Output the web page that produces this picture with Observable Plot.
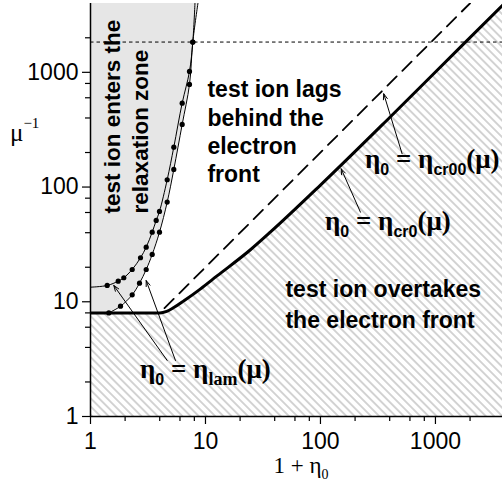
<!DOCTYPE html>
<html><head><meta charset="utf-8">
<script src="https://cdn.jsdelivr.net/npm/d3@7"></script>
<script src="https://cdn.jsdelivr.net/npm/@observablehq/plot@0.6"></script>
<style>html,body{margin:0;padding:0;background:#fff;}</style>
</head><body><div id="chart"></div>
<script>
// ---- data ----
const xMajorTicks = [1, 10, 100, 1000];
const xMinorTicks = [2, 4, 6, 8, 20, 40, 60, 80, 200, 400, 600, 800, 2000];
const yMajorTicks = [1, 10, 100, 1000];
const yMinorTicks = [2, 4, 6, 8, 20, 40, 60, 80, 200, 400, 600, 800, 2000];
const massRatio = 1836;

// eta_lam curves (first/last points are line ends, the rest are dots)
const lamUpperX = [1, 1.397, 1.741, 1.948, 2.305, 2.722, 3.051, 3.44, 3.727, 3.981, 4.645, 5.302, 6.27, 7.26, 7.755, 8.1];
const lamUpperY = [13.4, 13.87, 15.12, 16.19, 19.12, 24.19, 29.9, 40.4, 51.2, 61.3, 115.8, 222.8, 538.9, 1018, 1836, 4000];
const lamLowerX = [1.443, 1.824, 2.305, 2.668, 3.051, 3.44, 3.981, 4.645, 5.302, 6.27, 7.26, 7.755, 8.6];
const lamLowerY = [8, 9.15, 11.5, 14.53, 19.12, 25.85, 40.4, 73.9, 142.3, 351.4, 784, 1836, 4000];

// eta_cr0 (thick solid) and eta_cr00 (dashed)
const cr0X = [1, 4, 4.6, 5.3, 6.5, 9, 12.6, 24.6, 36.8, 100, 400, 1760, 4000];
const cr0Y = [8, 8, 8.25, 8.9, 10.2, 12.9, 16.8, 28.4, 40.6, 104, 404, 1770, 4000];
const cr00X = [4.4, 2000];
const cr00Y = [8.8, 4000];

// annotations
const notes = [
  {text: "test ion lags\nbehind the\nelectron\nfront", x: 10.4, y: 903, lh: 1.23, rot: 0, size: 23},
  {text: "test ion overtakes\nthe electron front", x: 49.6, y: 16.96, lh: 1.33, rot: 0, size: 23},
  {text: "test ion enters the\nrelaxation zone", x: 1.19, y: 58.9, lh: 1.28, rot: -90, size: 22.5}
];
const arrows = [
  {x1: 513, y1: 195, x2: 355, y2: 650},
  {x1: 222.7, y1: 60.4, x2: 151.4, y2: 144.4},
  {x1: 4.645, y1: 3.08, x2: 1.594, y2: 13.87},
  {x1: 5.48, y1: 3.08, x2: 3.05, y2: 15.3}
];
const mathLabels = [
  {x: 246, y: 145, sub: "cr00", subSerif: false},
  {x: 110.5, y: 41.8, sub: "cr0", subSerif: false},
  {x: 2.72, y: 2.14, sub: "lam", subSerif: true}
];

const zip = (xs, ys) => xs.map((x, i) => ({x, y: ys[i]}));
const lamUpper = zip(lamUpperX, lamUpperY);
const lamLower = zip(lamLowerX, lamLowerY);
const cr0 = zip(cr0X, cr0Y);
const cr00 = zip(cr00X, cr00Y);

const SANS = "'Liberation Sans', Arial, Helvetica, sans-serif";
const SERIF = "'Liberation Serif', 'Times New Roman', serif";

const plot = Plot.plot({
  width: 502, height: 497,
  marginLeft: 90, marginRight: 0, marginTop: 3, marginBottom: 81,
  x: {type: "log", domain: [1, 3830]},
  y: {type: "log", domain: [1, 3980]},
  style: {fontFamily: SANS, fontSize: "23px", color: "black", background: "white", overflow: "visible"},
  marks: [
    Plot.areaX(lamLower, {y: "y", x1: 1, x2: "x", fill: "#e6e6e6", curve: "catmull-rom", clip: true}),
    Plot.areaY(cr0, {x: "x", y1: 1, y2: "y", fill: "url(#hatch)", curve: "monotone-x", clip: true}),
    Plot.ruleY([massRatio], {stroke: "black", strokeWidth: 1, strokeDasharray: "3.5,3"}),
    Plot.line(cr00, {x: "x", y: "y", stroke: "black", strokeWidth: 1.8, strokeDasharray: "13,8", clip: true}),
    Plot.line(cr0, {x: "x", y: "y", stroke: "black", strokeWidth: 3, curve: "monotone-x", clip: true}),
    Plot.line(lamUpper, {x: "x", y: "y", stroke: "black", strokeWidth: 1, curve: "catmull-rom", clip: true}),
    Plot.line(lamLower, {x: "x", y: "y", stroke: "black", strokeWidth: 1, curve: "catmull-rom", clip: true}),
    Plot.dot(lamUpper.slice(1, -1), {x: "x", y: "y", r: 2.6, fill: "black"}),
    Plot.dot(lamLower.slice(0, -1), {x: "x", y: "y", r: 2.6, fill: "black"}),
    Plot.arrow(arrows, {x1: "x1", y1: "y1", x2: "x2", y2: "y2", stroke: "black", strokeWidth: 1, headLength: 9, headAngle: 40}),
    ...notes.map(n => Plot.text([n], {x: "x", y: "y", text: "text", textAnchor: "start", lineAnchor: "top",
      lineHeight: n.lh, rotate: n.rot, fontWeight: "bold", fontSize: n.size, fill: "black"})),
    Plot.ruleX([1], {stroke: "black", strokeWidth: 1.5}),
    Plot.ruleY([1], {stroke: "black", strokeWidth: 1.5}),
    Plot.axisX({ticks: xMajorTicks, tickSize: 8, tickPadding: 8, tickFormat: d => String(d), label: null, strokeWidth: 1.2}),
    Plot.axisX({ticks: xMinorTicks, tickSize: 5, tickFormat: () => "", label: null, strokeWidth: 1.2}),
    Plot.axisY({ticks: yMajorTicks, tickSize: 8, tickPadding: 4, tickFormat: d => String(d), label: null, strokeWidth: 1.2}),
    Plot.axisY({ticks: yMinorTicks, tickSize: 5, tickFormat: () => "", label: null, strokeWidth: 1.2})
  ]
});

const svg = d3.select(plot);
const defs = svg.insert("defs", ":first-child");
const pat = defs.append("pattern").attr("id", "hatch").attr("patternUnits", "userSpaceOnUse")
  .attr("width", 5.8).attr("height", 5.8).attr("patternTransform", "rotate(-45)");
pat.append("line").attr("x1", 2.9).attr("y1", -1).attr("x2", 2.9).attr("y2", 7)
  .attr("stroke", "#b0b0b0").attr("stroke-width", 1.1);

const sx = plot.scale("x"), sy = plot.scale("y");
const g = svg.append("g").attr("text-anchor", "start");

// math labels: eta_0 = eta_sub(mu)
mathLabels.forEach(m => {
  const t = g.append("text").attr("x", sx.apply(m.x)).attr("y", sy.apply(m.y))
    .attr("text-anchor", "start").attr("font-weight", "bold").attr("fill", "black");
  t.append("tspan").attr("font-family", SERIF).attr("font-size", 27).text("η");
  t.append("tspan").attr("font-family", SANS).attr("font-size", 16).attr("dy", 7).text("0");
  t.append("tspan").attr("font-family", SERIF).attr("font-size", 27).attr("dy", -7).text(" = η");
  t.append("tspan").attr("font-family", m.subSerif ? SERIF : SANS).attr("font-size", m.subSerif ? 18 : 16).attr("dy", 7).text(m.sub);
  t.append("tspan").attr("font-family", SERIF).attr("font-size", 27).attr("dy", -7).text("(μ)");
});

// axis titles
const yt = g.append("text").attr("x", 10).attr("y", 141).attr("text-anchor", "start").attr("font-family", SERIF).attr("fill", "black");
yt.append("tspan").attr("font-size", 25).text("μ");
yt.append("tspan").attr("font-size", 15).attr("dy", -13).text("−1");
const xt = g.append("text").attr("x", 301).attr("y", 473).attr("text-anchor", "middle").attr("font-family", SERIF).attr("fill", "black");
xt.append("tspan").attr("font-size", 23).text("1 + η");
xt.append("tspan").attr("font-size", 14).attr("dy", 6).text("0");

document.getElementById("chart").appendChild(plot);
</script>
</body></html>
